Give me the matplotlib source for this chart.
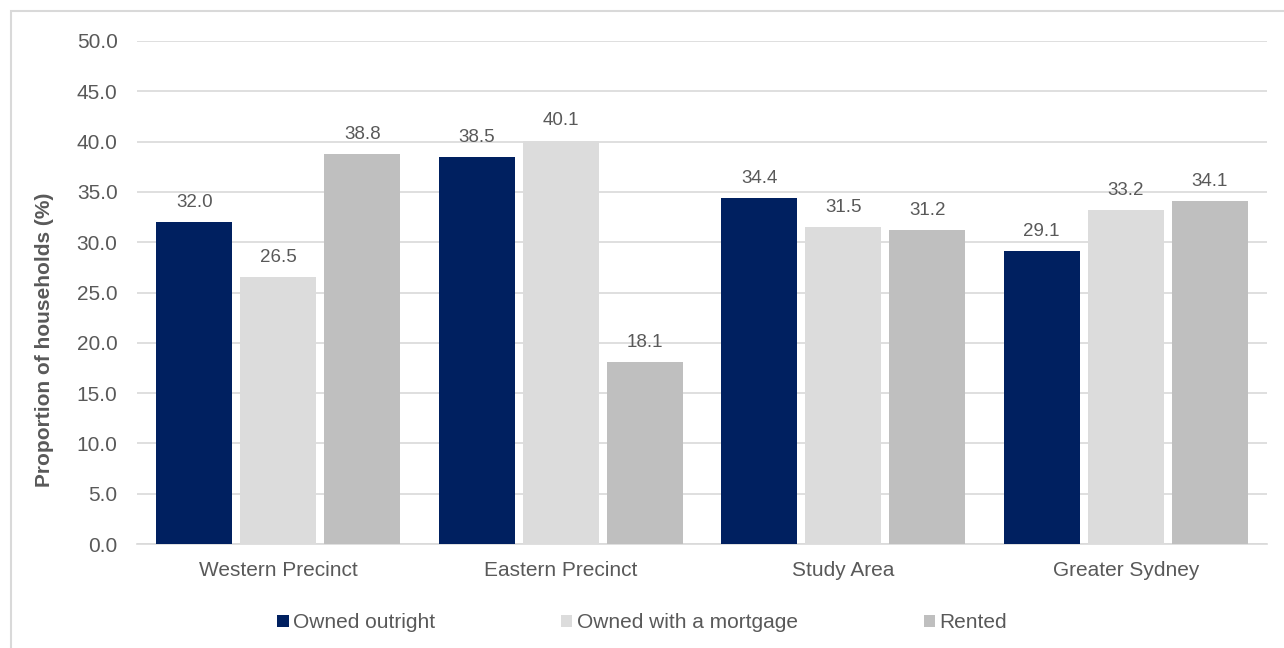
import matplotlib
matplotlib.use("Agg")
import matplotlib.pyplot as plt
import numpy as np
from matplotlib.patches import Rectangle

categories = ["Western Precinct", "Eastern Precinct", "Study Area", "Greater Sydney"]
series_names = ["Owned outright", "Owned with a mortgage", "Rented"]
owned_outright = [32.0, 38.5, 34.4, 29.1]
owned_mortgage = [26.5, 40.1, 31.5, 33.2]
rented = [38.8, 18.1, 31.2, 34.1]
yticks = [0, 5, 10, 15, 20, 25, 30, 35, 40, 45, 50]

colors = ["#002060", "#DCDCDC", "#BFBFBF"]
text_color = "#595959"
plt.rcParams["font.family"] = ["Liberation Sans", "DejaVu Sans"]

fig = plt.figure(figsize=(12.84, 6.48), dpi=100)
ax = fig.add_axes([137 / 1284, 1 - 544 / 648, 1130 / 1284, 503 / 648])

# outer chart frame
fig.patches.append(Rectangle((11 / 1284, -0.05), 1.2, 1 - 11 / 648 + 0.05,
                             transform=fig.transFigure, fill=False,
                             edgecolor="#D9D9D9", linewidth=1.5))

x = np.arange(len(categories))
width = 76 / 282.5
pitch = 84 / 282.5
all_series = [owned_outright, owned_mortgage, rented]
for i, (vals, name, c) in enumerate(zip(all_series, series_names, colors)):
    bars = ax.bar(x + (i - 1) * pitch, vals, width, color=c, label=name, zorder=3)
    for rect, v in zip(bars, vals):
        ax.annotate(f"{v:.1f}", (rect.get_x() + rect.get_width() / 2, v),
                    xytext=(0, 8), textcoords="offset points",
                    ha="center", va="bottom", fontsize=13.5, color=text_color)

ax.set_xlim(-0.5, len(categories) - 0.5)
ax.set_ylim(0, 50)
ax.set_yticks(yticks)
ax.set_yticklabels([f"{t:.1f}" for t in yticks], fontsize=15, color=text_color)
ax.set_xticks(x)
ax.set_xticklabels(categories, fontsize=15, color=text_color)
ax.tick_params(axis="x", length=0, pad=12)
ax.tick_params(axis="y", length=0, pad=14)
ax.yaxis.grid(True, color="#D9D9D9", linewidth=1.2, zorder=0)
for s in ["top", "right", "left"]:
    ax.spines[s].set_visible(False)
ax.spines["bottom"].set_color("#D9D9D9")
ax.spines["bottom"].set_linewidth(1.2)
ax.set_ylabel("Proportion of households (%)", fontsize=15, fontweight="bold",
              color=text_color, va="center")
ax.yaxis.set_label_coords((45 - 137) / 1130, (544 - 340) / 503)

leg = fig.legend(loc="center", bbox_to_anchor=(0.5, 1 - 623 / 648), ncol=3,
                 frameon=False, fontsize=15, handlelength=0.55, handleheight=0.55,
                 handletextpad=0.2, columnspacing=6.05)
for t in leg.get_texts():
    t.set_color(text_color)

fig.savefig("out.png", dpi=100)
